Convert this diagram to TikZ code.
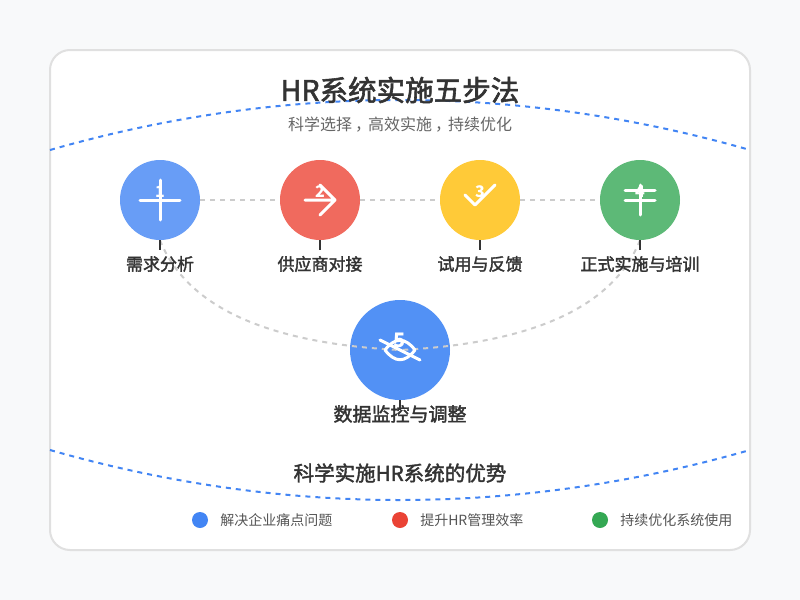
\documentclass[tikz,border=0pt]{standalone}
\usepackage{fontspec}
\setmainfont{Noto Sans CJK SC}
\newfontfamily\headfont[FakeBold=2]{Noto Sans CJK SC}
\newcommand{\midcomma}{\hspace{.2em}，\hspace{-.2em}}
\usetikzlibrary{positioning}
\definecolor{pagebg}{HTML}{F8F9FA}
\definecolor{panelline}{HTML}{E0E0E0}
\definecolor{curveblue}{HTML}{4285F4}
\definecolor{stepblue}{HTML}{689DF6}
\definecolor{stepred}{HTML}{F06A5E}
\definecolor{stepyellow}{HTML}{FFCA38}
\definecolor{stepgreen}{HTML}{5DB977}
\definecolor{stepdeep}{HTML}{5291F5}
\definecolor{dotred}{HTML}{EA4335}
\definecolor{dotgreen}{HTML}{34A853}
\definecolor{linkgray}{HTML}{CCCCCC}
\definecolor{inkdark}{HTML}{333333}
\definecolor{inkmid}{HTML}{555555}
\definecolor{inksub}{HTML}{666666}
\tikzset{
  x=0.75pt,
  y=-0.75pt,
  stepnode/.style={circle, minimum size=60pt, inner sep=0pt},
  bignode/.style={circle, minimum size=75pt, inner sep=0pt},
  icon/.style={draw=white, line width=2.25pt, line cap=round, line join=round},
  stepnum/.style={text=white, inner sep=0pt, font=\fontsize{12pt}{14pt}\selectfont\bfseries},
  steplabel/.style={text=inkdark, inner sep=0pt, font=\fontsize{12.75pt}{15pt}\selectfont\headfont},
  link/.style={draw=linkgray, line width=1.5pt, dash pattern=on 3.75pt off 3.75pt},
  arc/.style={draw=curveblue, line width=1.5pt, dash pattern=on 3.75pt off 3.75pt},
  tick/.style={draw=inkdark, line width=1.5pt},
  legenddot/.style={circle, minimum size=12pt, inner sep=0pt},
  legendtext/.style={anchor=west, text=inkmid, inner sep=0pt, font=\fontsize{10.5pt}{13pt}\selectfont},
}
\begin{document}
\begin{tikzpicture}
  \useasboundingbox (0,0) rectangle (800,600);
  \fill[pagebg] (0,0) rectangle (800,600);
  \draw[panelline, fill=white, line width=1.5pt, rounded corners=15pt] (50,50) rectangle (750,550);

  % arcs top and bottom
  \coordinate (topl) at (50,150);
  \coordinate (topr) at (750,150);
  \coordinate (botl) at (50,450);
  \coordinate (botr) at (750,450);
  \draw[arc] (topl) .. controls (283.33,83.33) and (516.67,83.33) .. (topr);
  \draw[arc] (botl) .. controls (283.33,516.67) and (516.67,516.67) .. (botr);

  \node[text=inkdark, inner sep=0pt, font=\fontsize{21.4pt}{25pt}\selectfont\headfont] (title) at (400,90) {HR系统实施五步法};
  \node[text=inksub, inner sep=0pt, font=\fontsize{12pt}{14pt}\selectfont] (subtitle) at (400,125) {科学选择\midcomma 高效实施\midcomma 持续优化};

  \node[stepnode, fill=stepblue]   (need)   at (160,200) {};
  \node[stepnode, fill=stepred]    (vendor) at (320,200) {};
  \node[stepnode, fill=stepyellow] (trial)  at (480,200) {};
  \node[stepnode, fill=stepgreen]  (train)  at (640,200) {};
  \node[bignode,  fill=stepdeep]   (watch)  at (400,350) {};

  \draw[link] (need) -- (vendor);
  \draw[link] (vendor) -- (trial);
  \draw[link] (trial) -- (train);
  \draw[link] (need.south) .. controls (186.67,306.67) and (266.67,343.33) .. (watch.center);
  \draw[link] (train.south) .. controls (613.33,306.67) and (533.33,343.33) .. (watch.center);

  \coordinate (needend) at (160,250);
  \coordinate (vendorend) at (320,250);
  \coordinate (trialend) at (480,250);
  \coordinate (trainend) at (640,250);
  \coordinate (watchend) at (400,410);
  \draw[tick] (need.south) -- (needend);
  \draw[tick] (vendor.south) -- (vendorend);
  \draw[tick] (trial.south) -- (trialend);
  \draw[tick] (train.south) -- (trainend);
  \draw[tick] (watch.south) -- (watchend);

  % icons
  \draw[icon] (140,200) -- (180,200) (160,180) -- (160,220);
  \draw[icon] (305,200) -- (335,200) (320,185) -- (335,200) -- (320,215);
  \draw[icon] (465,195) -- (475,205) -- (495,185);
  \draw[icon] (625,190) -- (655,190) (625,200) -- (655,200) (640,185) -- (640,215);
  \draw[icon] (385,350) .. controls (395,337) and (405,337) .. (415,350) .. controls (405,363) and (395,363) .. (385,350);
  \draw[icon] (380,340) -- (420,360);

  \node[stepnum] (numa) at (160,192) {1};
  \node[stepnum] (numb) at (320,192) {2};
  \node[stepnum] (numc) at (480,192) {3};
  \node[stepnum] (numd) at (640,192) {4};
  \node[stepnum, font=\fontsize{15pt}{18pt}\selectfont\bfseries] (nume) at (400,340) {5};

  \node[steplabel] (needtext)   at (160,264) {需求分析};
  \node[steplabel] (vendortext) at (320,264) {供应商对接};
  \node[steplabel] (trialtext)  at (480,264) {试用与反馈};
  \node[steplabel] (traintext)  at (640,264) {正式实施与培训};
  \node[steplabel, font=\fontsize{14.25pt}{17pt}\selectfont\headfont] (watchtext) at (400,414) {数据监控与调整};

  \node[text=inkdark, inner sep=0pt, font=\fontsize{15.4pt}{18pt}\selectfont\headfont] (gains) at (400,473) {科学实施HR系统的优势};

  \node[legenddot, fill=curveblue] (dota) at (200,520) {};
  \node[legenddot, fill=dotred]    (dotb) at (400,520) {};
  \node[legenddot, fill=dotgreen]  (dotc) at (600,520) {};
  \node[legendtext] (gaina) at (220,520) {解决企业痛点问题};
  \node[legendtext] (gainb) at (420,520) {提升HR管理效率};
  \node[legendtext] (gainc) at (620,520) {持续优化系统使用};
\end{tikzpicture}
\end{document}
